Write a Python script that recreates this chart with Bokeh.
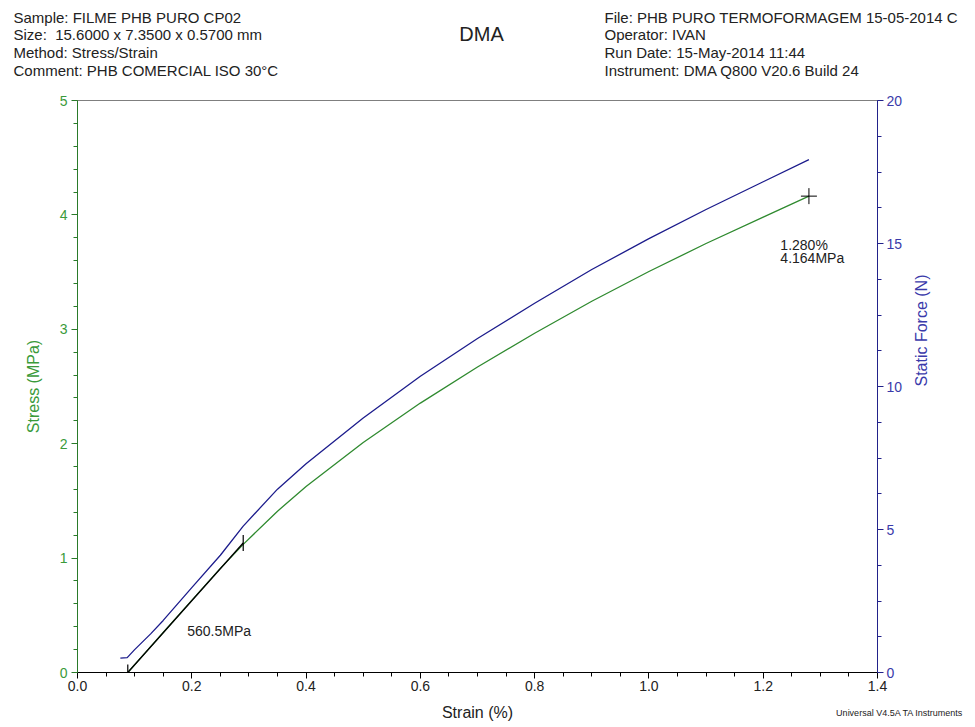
from bokeh.plotting import figure
from bokeh.layouts import column
from bokeh.models import (Range1d, LinearAxis, FixedTicker, Label, Span,
                          PrintfTickFormatter)
from bokeh.embed import file_html
from bokeh.resources import INLINE
import math

# ---- data ----
strain_stress = [0.088, 0.12, 0.15, 0.20, 0.25, 0.29, 0.35, 0.40, 0.50,
                 0.60, 0.70, 0.80, 0.90, 1.00, 1.10, 1.20, 1.28]
stress = [0.0, 0.18, 0.35, 0.63, 0.91, 1.12, 1.41, 1.625, 2.01,
          2.355, 2.67, 2.965, 3.245, 3.505, 3.75, 3.98, 4.164]

strain_force = [0.075, 0.087, 0.10, 0.128, 0.15, 0.20, 0.25, 0.29, 0.35, 0.40,
                0.50, 0.60, 0.70, 0.80, 0.90, 1.00, 1.10, 1.20, 1.28]
force = [0.50, 0.52, 0.80, 1.35, 1.82, 2.97, 4.10, 5.12, 6.41, 7.30,
         8.90, 10.36, 11.68, 12.91, 14.09, 15.17, 16.19, 17.16, 17.93]

onset_strain = 0.088
tangent_end_strain = 0.29
modulus_mpa = 560.5
end_strain = 1.280
end_stress = 4.164

x_ticks = [0.0, 0.2, 0.4, 0.6, 0.8, 1.0, 1.2, 1.4]
x_minor = [i * 0.05 for i in range(29)]
y_ticks = [0, 1, 2, 3, 4, 5]
y_minor = [i * 0.2 for i in range(26)]
f_ticks = [0, 5, 10, 15, 20]
f_minor = [i * 1.25 for i in range(17)]

header_left = ["Sample: FILME PHB PURO CP02",
               "Size:\u00a0 15.6000 x 7.3500 x 0.5700 mm",
               "Method: Stress/Strain",
               "Comment: PHB COMERCIAL ISO 30\u00b0C"]
header_right = ["File: PHB PURO TERMOFORMAGEM 15-05-2014 C",
                "Operator: IVAN",
                "Run Date: 15-May-2014 11:44",
                "Instrument: DMA Q800 V20.6 Build 24"]
title_text = "DMA"
x_label = "Strain (%)"
footer_text = "Universal V4.5A TA Instruments"

FONT = "Liberation Sans"
GREEN_LINE = "#2f8a2f"
GREEN_AX = "#2a7a2a"
GREEN_TXT = "#3a9a3a"
BLUE_LINE = "#1c1c8c"
BLUE_AX = "#22228a"
BLUE_TXT = "#3a3aaa"
TXT = "#222222"
W = 967


def blank_fig(h):
    f = figure(width=W, height=h, x_range=Range1d(0, W), y_range=Range1d(h, 0),
               output_backend="svg", toolbar_location=None,
               x_axis_location=None, y_axis_location=None,
               min_border_left=0, min_border_right=0, min_border_top=0,
               min_border_bottom=0)
    f.frame_align = False
    f.outline_line_color = None
    f.grid.visible = False
    f.background_fill_color = "white"
    f.border_fill_color = "white"
    return f


def add_label(fig, x, y, text, size="14px", align="left", color=TXT):
    fig.add_layout(Label(x=x, y=y, text=text, text_font=FONT, text_font_size=size,
                         text_align=align, text_baseline="middle", text_color=color))


# ---------- header ----------
HEAD_H = 92
head = blank_fig(HEAD_H)
ys = [17, 34, 52, 70]
for t, yy in zip(header_left, ys):
    add_label(head, 13, yy, t, size="15px")
for t, yy in zip(header_right, ys):
    add_label(head, 604, yy, t, size="15px")
add_label(head, 481, 33, title_text, size="20px", align="center")

# ---------- main plot ----------
p = figure(width=W, height=606, x_range=Range1d(0, 1.4), y_range=Range1d(0, 5),
           output_backend="svg", toolbar_location=None,
           min_border_left=77, min_border_right=90, min_border_top=8,
           min_border_bottom=26)
p.frame_align = False
p.extra_y_ranges = {"force": Range1d(0, 20)}
p.outline_line_color = None
p.grid.visible = False
p.background_fill_color = "white"
p.border_fill_color = "white"


def style_axis(ax, line_c, txt_c):
    ax.axis_line_color = line_c
    ax.major_tick_line_color = line_c
    ax.minor_tick_line_color = line_c
    ax.major_label_text_color = txt_c
    ax.axis_label_text_color = txt_c
    ax.major_tick_in = 0
    ax.major_tick_out = 6
    ax.minor_tick_in = 0
    ax.minor_tick_out = 4
    ax.major_label_text_font = FONT
    ax.major_label_text_font_size = "14px"
    ax.axis_label_text_font = FONT
    ax.axis_label_text_font_size = "16px"
    ax.axis_label_text_font_style = "normal"


xa = p.xaxis[0]
xa.ticker = FixedTicker(ticks=x_ticks, minor_ticks=x_minor)
xa.formatter = PrintfTickFormatter(format="%.1f")
style_axis(xa, "black", TXT)
xa.major_label_standoff = 2

ya = p.yaxis[0]
ya.ticker = FixedTicker(ticks=y_ticks, minor_ticks=y_minor)
ya.axis_label = "Stress (MPa)"
style_axis(ya, GREEN_AX, GREEN_TXT)
ya.major_label_standoff = 4
ya.axis_label_standoff = 15

ra = LinearAxis(y_range_name="force", axis_label="Static Force (N)",
                ticker=FixedTicker(ticks=f_ticks, minor_ticks=f_minor))
style_axis(ra, BLUE_AX, BLUE_TXT)
ra.major_label_standoff = 3
ra.axis_label_standoff = 16
ra.axis_label_orientation = math.pi / 2
p.add_layout(ra, "right")

p.add_layout(Span(location=5, dimension="width", line_color="black", line_width=1))

p.line(strain_force, force, y_range_name="force", line_color=BLUE_LINE, line_width=1.3)
p.line(strain_stress, stress, line_color=GREEN_LINE, line_width=1.3)

t_x = [onset_strain, tangent_end_strain]
t_y = [0.0, modulus_mpa * (tangent_end_strain - onset_strain) / 100.0]
p.line(t_x, t_y, line_color="black", line_width=1.3)
p.scatter(t_x, t_y, marker="dash", angle=math.pi / 2, size=16,
          line_color="black", line_width=1.2)
p.scatter([end_strain], [end_stress], marker="cross", size=16,
          line_color="black", line_width=1.0)

add_label(p, 0.192, 0.367, f"{modulus_mpa:.1f}MPa")
add_label(p, 1.230, 3.74, f"{end_strain:.3f}%")
add_label(p, 1.230, 3.62, f"{end_stress:.3f}MPa")

# ---------- footer (x-axis title + instrument note) ----------
foot = blank_fig(25)
add_label(foot, 477, 14, x_label, size="16px", align="center")
add_label(foot, 963, 14, footer_text, size="9px", align="right")

layout = column(head, p, foot, spacing=0)
open("out.html", "w").write(file_html(layout, INLINE))
